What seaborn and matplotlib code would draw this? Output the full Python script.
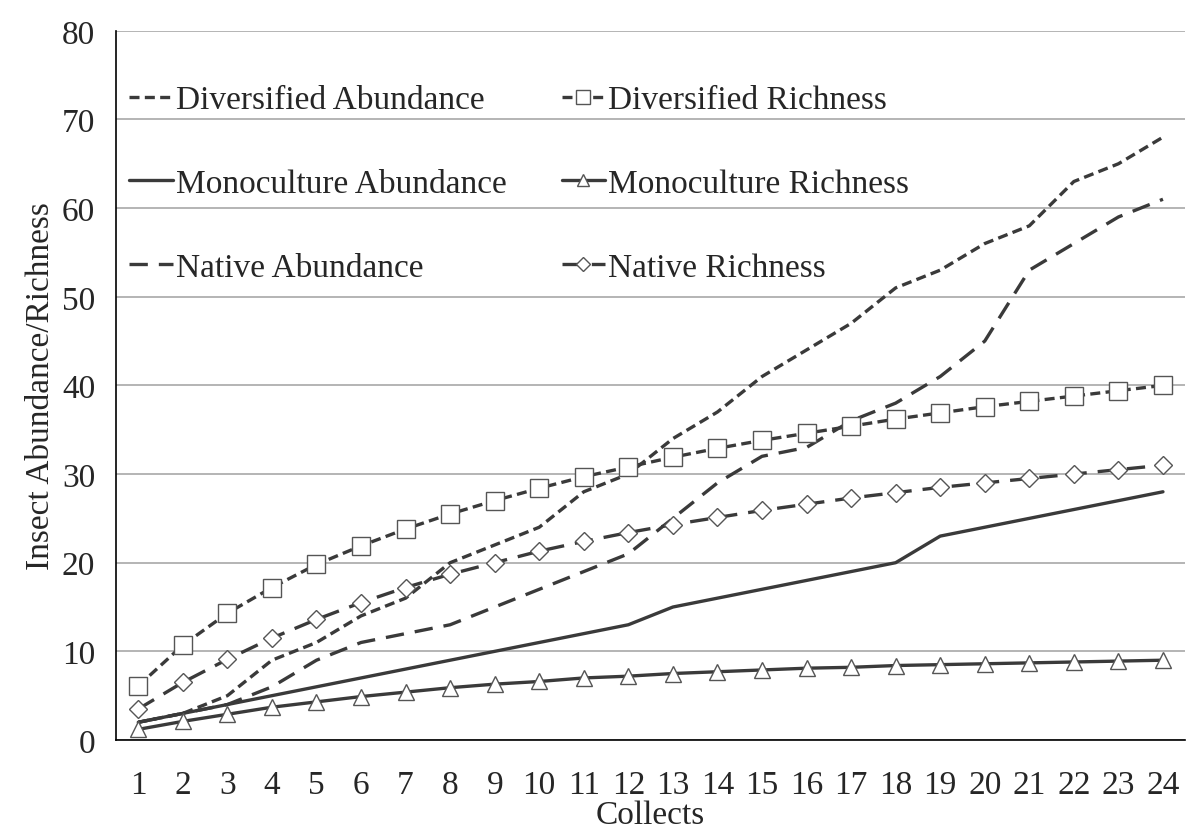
import matplotlib
matplotlib.use("Agg")
import matplotlib.pyplot as plt
import numpy as np
import seaborn as sns

collects = list(range(1, 25))

diversified_abundance = [2, 3, 5, 9, 11, 14, 16, 20, 22, 24, 28, 30, 34, 37, 41, 44, 47, 51, 53, 56, 58, 63, 65, 68]
monoculture_abundance = [2, 3, 4, 5, 6, 7, 8, 9, 10, 11, 12, 13, 15, 16, 17, 18, 19, 20, 23, 24, 25, 26, 27, 28]
native_abundance = [2, 3, 4, 6, 9, 11, 12, 13, 15, 17, 19, 21, 25, 29, 32, 33, 36, 38, 41, 45, 53, 56, 59, 61]
diversified_richness = [6.1, 10.7, 14.3, 17.2, 19.8, 21.9, 23.8, 25.5, 27.0, 28.4, 29.7, 30.8,
                        31.9, 32.9, 33.8, 34.6, 35.4, 36.2, 36.9, 37.6, 38.2, 38.8, 39.4, 40.0]
monoculture_richness = [1.2, 2.1, 2.9, 3.7, 4.3, 4.9, 5.4, 5.9, 6.3, 6.6, 7.0, 7.2,
                        7.5, 7.7, 7.9, 8.1, 8.2, 8.4, 8.5, 8.6, 8.7, 8.8, 8.9, 9.0]
native_richness = [3.5, 6.5, 9.1, 11.5, 13.6, 15.5, 17.2, 18.7, 20.0, 21.3, 22.4, 23.4,
                   24.3, 25.1, 25.9, 26.6, 27.3, 27.9, 28.5, 29.0, 29.5, 30.0, 30.5, 31.0]

sns.set_style("white")
plt.rcParams["font.family"] = ["Liberation Serif", "DejaVu Serif"]

fig = plt.figure(figsize=(11.96, 8.37), dpi=100)
ax = fig.add_axes([0.097, 0.1147, 0.894, 0.8473])

line_color = "#3a3a3a"
edge_color = "#555555"
fs = 24

# order matters for the two-column legend (filled column by column)
series = [
    ("Diversified Abundance", diversified_abundance, (0, (3, 1.6)), None),
    ("Monoculture Abundance", monoculture_abundance, "-", None),
    ("Native Abundance", native_abundance, (0, (5.5, 3.3)), None),
    ("Diversified Richness", diversified_richness, (0, (3, 1.6)), "s"),
    ("Monoculture Richness", monoculture_richness, "-", "^"),
    ("Native Richness", native_richness, (0, (5.5, 3.3)), "D"),
]

for name, values, ls, marker in series:
    kw = {}
    if marker is not None:
        size = {"s": 13, "^": 12, "D": 9}[marker]
        kw = dict(marker=marker, markersize=size, markerfacecolor="white",
                  markeredgecolor=edge_color, markeredgewidth=1.0)
    sns.lineplot(x=collects, y=values, ax=ax, color=line_color, linestyle=ls,
                 linewidth=2.4, label=name, **kw)

ax.set_xlim(0.5, 24.5)
ax.set_ylim(0, 80)
ax.set_yticks(np.arange(0, 81, 10))
ax.set_xticks(collects)
ax.set_xticks(np.arange(0.5, 25, 1), minor=True)
ax.tick_params(axis="x", which="major", length=0, labelsize=fs, pad=21)
ax.tick_params(axis="x", which="minor", length=8, width=1.2, direction="out", color="black")
ax.tick_params(axis="y", length=8, width=1.2, direction="out", color="black", labelsize=fs, pad=7)
ax.yaxis.grid(True, color="#a8a8a8", linewidth=1.2)
ax.xaxis.grid(False)

for side in ["top", "right"]:
    ax.spines[side].set_visible(False)
for side in ["left", "bottom"]:
    ax.spines[side].set_color("black")
    ax.spines[side].set_linewidth(1.2)

ax.set_xlabel("Collects", fontsize=fs, labelpad=0)
ax.set_ylabel("Insect Abundance/Richness", fontsize=fs, labelpad=4)

leg = ax.legend(loc="upper left", bbox_to_anchor=(0.0125, 0.924), ncol=2, frameon=False,
                fontsize=fs, handlelength=1.3, handletextpad=0.1, labelspacing=1.6,
                columnspacing=1.65, borderpad=0, borderaxespad=0, markerscale=0.75)

fig.savefig("out.png", dpi=100)
